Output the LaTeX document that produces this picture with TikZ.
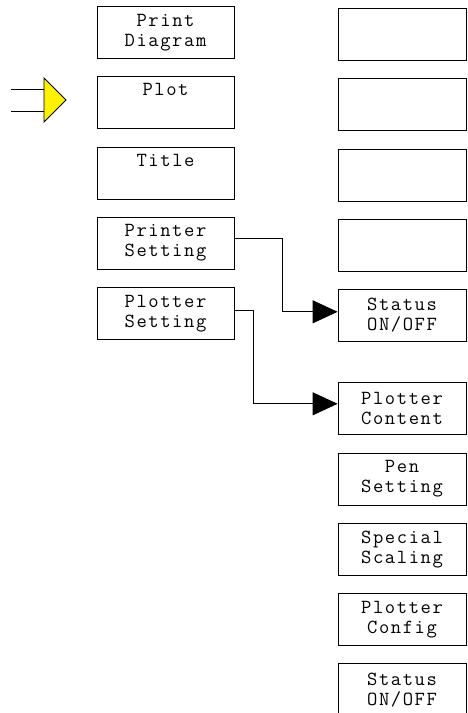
\documentclass[tikz,border=0pt]{standalone}
\usepackage{fontspec}
\setmonofont{Latin Modern Mono}[LetterSpace=8]
\usetikzlibrary{arrows.meta, positioning, calc}

\begin{document}
\begin{tikzpicture}[x=1pt, y=-1pt, >={Triangle[length=25pt, width=23pt]}, node distance=17.4pt]
            \tikzset{menubox/.style={draw, line width=0.8pt, minimum width=137pt, minimum height=52pt, inner sep=0pt, text width=135pt, align=center, font=\ttfamily\fontsize{20}{20}\selectfont},
                     softbox/.style={menubox, minimum width=128pt, text width=126pt},
                     conn/.style={->, line width=0.8pt}}
            \useasboundingbox (0,0) rectangle (467,713);
            % left menu
            \node[menubox] (pd) at (165.5,32.5) {Print\\Diagram};
            \node[menubox, below=of pd] (plot) {Plot\\\strut};
            \node[menubox, below=of plot] (title) {Title\\\strut};
            \node[menubox, below=of title] (prs) {Printer\\Setting};
            \node[menubox, below=of prs] (pls) {Plotter\\Setting};
            % right menu
            \node[softbox] (r1) at (402,34.5) {\strut\\\strut};
            \node[softbox, below=of r1] (r2) {\strut\\\strut};
            \node[softbox, below=of r2] (r3) {\strut\\\strut};
            \node[softbox, below=of r3] (r4) {\strut\\\strut};
            \node[softbox, below=of r4] (st1) {Status\\ON/OFF};
            \node[softbox, below=40.7pt of st1] (pc) {Plotter\\Content};
            \node[softbox, below=of pc] (pen) {Pen\\Setting};
            \node[softbox, below=of pen] (sps) {Special\\Scaling};
            \node[softbox, below=of sps] (pcf) {Plotter\\Config};
            \node[softbox, below=of pcf] (st2) {Status\\ON/OFF};
            % pointer
            \coordinate (tip) at (66,100);
            \draw[line width=0.8pt] (11,89) -- (44,89) (11,111) -- (44,111);
            \draw[line width=0.8pt, fill=yellow] (44,78) -- (tip) -- (44,122) -- cycle;
            % links
            \draw[conn] ([yshift=5pt]prs.east) -| ([xshift=-55pt, yshift=3.5pt]st1.west) -- ([yshift=3.5pt]st1.west);
            \draw[conn] ([yshift=3pt]pls.east) -| ([xshift=-84pt, yshift=5pt]pc.west) -- ([yshift=5pt]pc.west);
        \end{tikzpicture}
\end{document}
